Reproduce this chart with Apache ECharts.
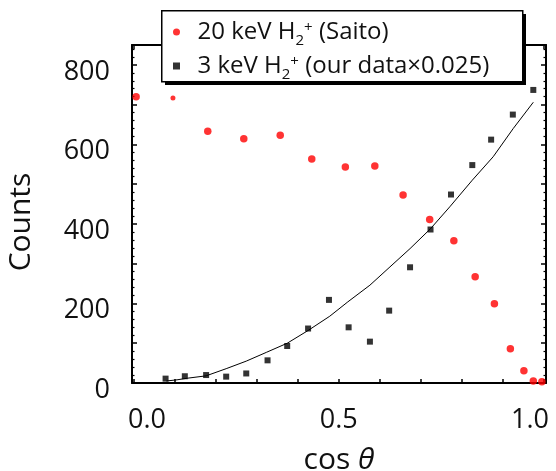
<!DOCTYPE html>
<html>
<head>
<meta charset="utf-8">
<script src="https://cdn.jsdelivr.net/npm/echarts@6/dist/echarts.min.js"></script>
<style>
  html, body { margin: 0; padding: 0; background: #fff; }
  #chart { width: 556px; height: 471px; }
</style>
</head>
<body>
<div id="chart"></div>
<script>
// Angular distribution: counts vs cos(theta)
const saitoX = [0.005, 0.095, 0.180, 0.268, 0.357, 0.434, 0.516, 0.588, 0.657, 0.722, 0.781, 0.833, 0.880, 0.919, 0.952, 0.975, 0.996];
const saitoY = [720, 717, 633, 614, 623, 563, 543, 546, 473, 411, 358, 267, 199, 86, 31, 5, 3];

const ourX = [0.077, 0.124, 0.176, 0.225, 0.274, 0.326, 0.374, 0.425, 0.476, 0.524, 0.576, 0.623, 0.674, 0.724, 0.774, 0.826, 0.872, 0.925, 0.975];
const ourY = [11, 17, 20, 16, 24, 57, 93, 137, 209, 140, 104, 182, 291, 386, 474, 548, 612, 675, 737];

// fitted curve through our data
const fitX = [0.079, 0.105, 0.130, 0.176, 0.225, 0.274, 0.323, 0.374, 0.425, 0.478, 0.522, 0.576, 0.625, 0.674, 0.724, 0.771, 0.826, 0.877, 0.926, 0.975];
const fitY = [5, 8, 12, 18, 36, 55, 77, 100, 132, 168, 204, 246, 292, 338, 388, 443, 510, 569, 640, 706];

const xTicks = [0, 0.1, 0.2, 0.3, 0.4, 0.5, 0.6, 0.7, 0.8, 0.9, 1.0];
const xLabels = [0, 0.5, 1.0];
const yLabels = [0, 200, 400, 600, 800];

const seriesNames = ['saito', 'ours'];
const legendText = {
  saito: '{n|20 keV H}{sub|2}{sup|+}{n| (Saito)}',
  ours: '{n|3 keV H}{sub|2}{sup|+}{n| (our data×0.025)}'
};

const FONT = 'Open Sans';
const INK = '#111';
const zip = (xs, ys) => xs.map((x, i) => [x, ys[i]]);

const chart = echarts.init(document.getElementById('chart'), null, { renderer: 'canvas' });

const frameLine = () => ({ show: true, onZero: false, lineStyle: { color: '#000', width: 2 } });

const xBase = () => ({
  type: 'value', min: -0.005, max: 1.006,
  axisLine: frameLine(),
  splitLine: { show: false },
  axisTick: { show: true, inside: true, length: 4, customValues: xTicks, lineStyle: { color: '#000', width: 1.5 } },
});
const yBase = () => ({
  type: 'value', min: 0, max: 850, interval: 100,
  axisLine: frameLine(),
  splitLine: { show: false },
  axisTick: { show: true, inside: true, length: 5, lineStyle: { color: '#000', width: 1.5 } },
  minorTick: { show: true, splitNumber: 5, length: 2.5, lineStyle: { color: '#000', width: 1.2 } },
});

// legend frame with a hard offset shadow
const LEG = { x: 161, y: 10, w: 361, h: 71, off: 4 };

const option = {
  animation: false,
  backgroundColor: '#fff',
  textStyle: { fontFamily: FONT },
  grid: { left: 132, right: 10, top: 45, bottom: 88, containLabel: false, outerBoundsMode: 'none' },
  graphic: [
    { type: 'rect', left: LEG.x + LEG.off, top: LEG.y + LEG.off, shape: { width: LEG.w, height: LEG.h }, style: { fill: '#000' }, z: 10, silent: true },
    { type: 'rect', left: LEG.x, top: LEG.y, shape: { width: LEG.w, height: LEG.h }, style: { fill: '#fff', stroke: '#000', lineWidth: 1.5 }, z: 11, silent: true }
  ],
  xAxis: [
    Object.assign(xBase(), {
      position: 'bottom',
      name: '{a|cos }{t|θ}',
      nameLocation: 'middle',
      nameGap: 62,
      nameTextStyle: {
        rich: {
          a: { fontFamily: FONT, fontSize: 30, color: INK },
          t: { fontFamily: FONT, fontStyle: 'italic', fontSize: 30, color: INK }
        }
      },
      axisLabel: {
        show: true, customValues: xLabels, margin: 24,
        fontFamily: FONT, fontSize: 27, color: INK,
        formatter: v => v === 0 ? '{l|0.0}' : (v >= 1 ? '{r|1.0}' : '{m|' + v.toFixed(1) + '}'),
        rich: {
          l: { fontFamily: FONT, fontSize: 27, color: INK, padding: [0, 0, 0, 26] },
          m: { fontFamily: FONT, fontSize: 27, color: INK },
          r: { fontFamily: FONT, fontSize: 27, color: INK, padding: [0, 27, 0, 0] }
        }
      }
    }),
    Object.assign(xBase(), {
      position: 'top',
      axisLabel: { show: false }
    })
  ],
  yAxis: [
    Object.assign(yBase(), {
      position: 'left',
      name: 'Counts',
      nameLocation: 'middle',
      nameGap: 96,
      nameTextStyle: { fontFamily: FONT, fontSize: 30, color: INK, padding: [0, 16, 0, 0] },
      axisLabel: {
        show: true, customValues: yLabels, margin: 22,
        fontFamily: FONT, fontSize: 27, color: INK,
        formatter: v => '{v|' + v + '}',
        rich: { v: { fontFamily: FONT, fontSize: 27, color: INK, padding: [14, 0, 0, 0] } }
      }
    }),
    Object.assign(yBase(), {
      position: 'right',
      axisLabel: { show: false }
    })
  ],
  legend: {
    data: [
      { name: seriesNames[0], icon: 'circle' },
      { name: seriesNames[1], icon: 'path://M0,0L1,0L1,1L0,1Z' }
    ],
    orient: 'vertical',
    left: LEG.x, top: LEG.y,
    padding: [10, 10, 6, 12],
    itemGap: 6,
    itemWidth: 32, itemHeight: 7,
    symbolKeepAspect: true,
    selectedMode: false,
    z: 12,
    formatter: name => legendText[name],
    textStyle: {
      fontFamily: FONT, fontSize: 24, color: INK, lineHeight: 24,
      rich: {
        n: { fontFamily: FONT, fontSize: 24, color: INK, lineHeight: 24 },
        sub: { fontFamily: FONT, fontSize: 15, color: INK, verticalAlign: 'bottom', lineHeight: 14, padding: [0, 0, -4, 0] },
        sup: { fontFamily: FONT, fontSize: 15, color: INK, verticalAlign: 'top', lineHeight: 14 }
      }
    }
  },
  series: [
    {
      name: 'fit', type: 'line', xAxisIndex: 0, yAxisIndex: 0,
      data: zip(fitX, fitY),
      showSymbol: false, symbol: 'none',
      lineStyle: { color: '#000', width: 1 },
      z: 2
    },
    {
      name: 'saito', type: 'scatter', xAxisIndex: 0, yAxisIndex: 0,
      data: zip(saitoX, saitoY).map((p, i) => i === 1 ? { value: p, symbolSize: 5 } : p),
      symbol: 'circle', symbolSize: 7.5,
      itemStyle: { color: '#ff0000' },
      z: 3
    },
    {
      name: 'ours', type: 'scatter', xAxisIndex: 0, yAxisIndex: 0,
      data: zip(ourX, ourY),
      symbol: 'rect', symbolSize: 6,
      itemStyle: { color: '#000' },
      z: 3
    }
  ]
};

chart.setOption(option);
</script>
</body>
</html>
